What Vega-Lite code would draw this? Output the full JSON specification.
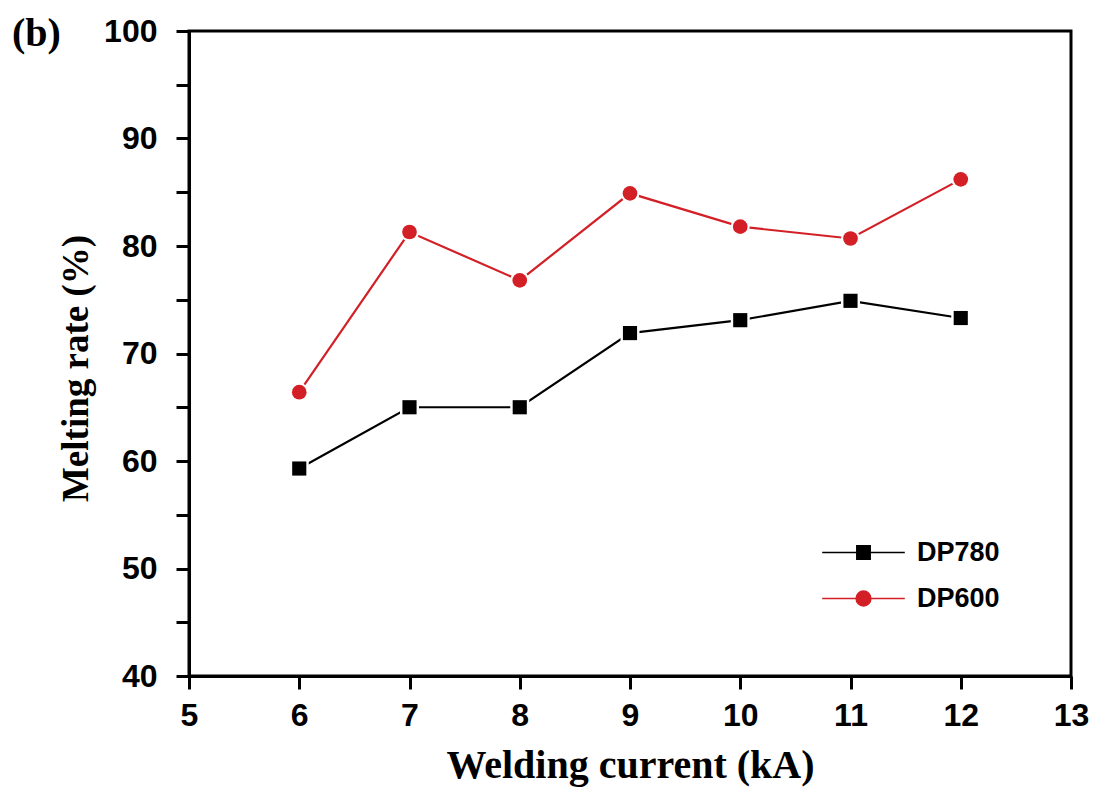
{
  "$schema": "https://vega.github.io/schema/vega-lite/v6.json",
  "width": 882,
  "height": 645,
  "autosize": {"type": "none"},
  "padding": {"left": 189, "top": 31, "right": 25, "bottom": 113},
  "background": "white",
  "title": {"text": "(b)", "anchor": "start", "frame": "group", "dx": -177, "dy": 71, "offset": 0, "baseline": "alphabetic", "font": "Liberation Serif", "fontWeight": "bold", "fontSize": 40, "color": "black"},
  "config": {
    "view": {"stroke": "black", "strokeWidth": 3},
    "axis": {
      "domainColor": "black", "domainWidth": 3, "tickColor": "black", "tickWidth": 3,
      "labelFont": "Liberation Sans", "labelFontWeight": "bold", "labelFontSize": 32, "labelColor": "black",
      "titleFont": "Liberation Serif", "titleFontWeight": "bold", "titleColor": "black",
      "grid": false, "labelOverlap": false, "labelBound": false, "labelFlush": false
    },
    "legend": {"orient": "none", "legendX": 661, "legendY": 508, "padding": 0,
      "symbolSize": 196, "labelOffset": 40, "rowPadding": 18, "symbolOpacity": 1, "symbolStrokeWidth": 1.6,
      "labelFont": "Liberation Sans", "labelFontWeight": "bold", "labelFontSize": 27, "labelColor": "black"}
  },
  "data": {"values": [
    {"current": 6, "series": "DP780", "rate": 59.3},
    {"current": 7, "series": "DP780", "rate": 65.0},
    {"current": 8, "series": "DP780", "rate": 65.0},
    {"current": 9, "series": "DP780", "rate": 71.9},
    {"current": 10, "series": "DP780", "rate": 73.1},
    {"current": 11, "series": "DP780", "rate": 74.9},
    {"current": 12, "series": "DP780", "rate": 73.3},
    {"current": 6, "series": "DP600", "rate": 66.4},
    {"current": 7, "series": "DP600", "rate": 81.3},
    {"current": 8, "series": "DP600", "rate": 76.8},
    {"current": 9, "series": "DP600", "rate": 84.9},
    {"current": 10, "series": "DP600", "rate": 81.8},
    {"current": 11, "series": "DP600", "rate": 80.7},
    {"current": 12, "series": "DP600", "rate": 86.2}
  ]},
  "encoding": {
    "x": {"field": "current", "type": "quantitative",
      "scale": {"domain": [5, 13], "nice": false, "zero": false},
      "axis": {"title": "Welding current (kA)", "titleFontSize": 40, "values": [5,5.5,6,6.5,7,7.5,8,8.5,9,9.5,10,10.5,11,11.5,12,12.5,13],
        "format": "d",
        "labelExpr": "datum.value % 1 === 0 ? datum.label : ''",
        "tickSize": 13,
        "encode": {"ticks": {"y2": {"value": {"expr": "datum.value % 1 === 0 ? 13 : 7"}}}},
        "labelPadding": 11, "titlePadding": 14}},
    "y": {"field": "rate", "type": "quantitative",
      "scale": {"domain": [40, 100], "nice": false, "zero": false},
      "axis": {"title": "Melting rate (%)", "titleFontSize": 37, "titleY": 337, "values": [40,45,50,55,60,65,70,75,80,85,90,95,100],
        "format": "d",
        "labelExpr": "datum.value % 10 === 0 ? datum.label : ''",
        "tickSize": 13,
        "encode": {"ticks": {"x2": {"value": {"expr": "datum.value % 10 === 0 ? -13 : -7"}}}},
        "labelPadding": 19, "titlePadding": 8}}
  },
  "layer": [
    {"transform": [{"filter": "datum.series === 'DP780'"}],
     "mark": {"type": "line", "strokeWidth": 2.2, "color": "#000000"}, "encoding": {}},
    {"transform": [{"filter": "datum.series === 'DP600'"}],
     "mark": {"type": "line", "strokeWidth": 2.2, "color": "#d31f26"}, "encoding": {}},
    {"transform": [{"filter": "datum.series === 'DP780'"}],
     "mark": {"type": "point", "shape": "square", "filled": true, "opacity": 1, "color": "white", "size": 360}, "encoding": {}},
    {"transform": [{"filter": "datum.series === 'DP600'"}],
     "mark": {"type": "point", "shape": "circle", "filled": true, "opacity": 1, "color": "white", "size": 360}, "encoding": {}},
    {"transform": [{"filter": "datum.series === 'DP780'"}],
     "mark": {"type": "point", "shape": "square", "filled": true, "opacity": 1, "color": "#000000", "size": 200}, "encoding": {}},
    {"transform": [{"filter": "datum.series === 'DP600'"}],
     "mark": {"type": "point", "shape": "circle", "filled": true, "opacity": 1, "color": "#d31f26", "size": 215}, "encoding": {}},
    {"mark": {"type": "point", "filled": true, "opacity": 0, "strokeWidth": 1.6},
     "encoding": {
       "color": {"field": "series", "type": "nominal",
         "scale": {"domain": ["DP780", "DP600"], "range": ["#000000", "#d31f26"]},
         "legend": {"title": null}},
       "stroke": {"field": "series", "type": "nominal",
         "scale": {"domain": ["DP780", "DP600"], "range": ["#000000", "#d31f26"]},
         "legend": {"title": null}},
       "shape": {"field": "series", "type": "nominal",
         "scale": {"domain": ["DP780", "DP600"], "range": ["M-5.9,0H5.9M-0.95,-0.95H0.95V0.95H-0.95Z", "M-5.9,0H5.9M1.05,0A1.05,1.05,0,1,1,-1.05,0A1.05,1.05,0,1,1,1.05,0Z"]},
         "legend": {"title": null}}
     }}
  ]
}
